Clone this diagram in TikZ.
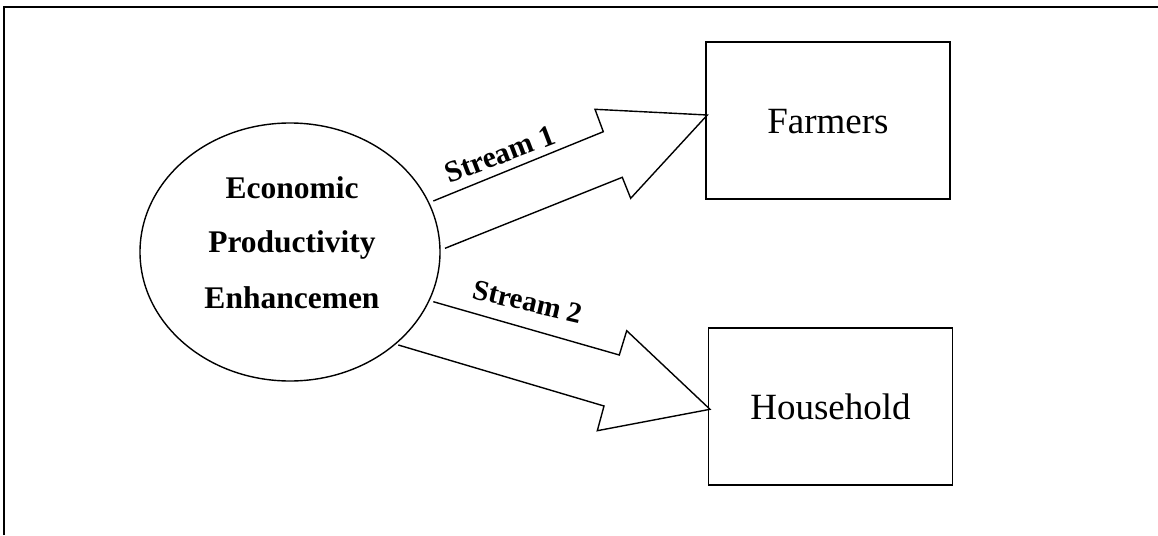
\documentclass[tikz,border=0pt]{standalone}
\usepackage{fontspec}
\setmainfont{Liberation Serif}
\usetikzlibrary{shapes.geometric}
\begin{document}
\begin{tikzpicture}[x=1pt,y=-1pt,line join=miter,
  outline/.style={draw,line width=1.4pt},
  boxnode/.style={outline,rectangle,minimum width=244pt,minimum height=157pt,inner sep=0pt,
    text height=25pt,text depth=0pt,font=\fontsize{37}{40}\selectfont},
  ovaltext/.style={anchor=base,inner sep=0pt,font=\fontsize{31.5}{34}\selectfont\bfseries},
  streamlbl/.style={anchor=base,inner sep=0pt,font=\fontsize{30}{32}\selectfont\bfseries},
  blockarrow/.style={outline}]
\useasboundingbox (0,0) rectangle (1158,535);
% frame
\draw[line width=2pt] (4,535) -- (4,7) -- (1158,7);
% nodes
\node[outline,ellipse,minimum width=300pt,minimum height=258pt,inner sep=0pt] (epe) at (290,252) {};
\node[boxnode] (farm) at (828,120.5) {Farmers};
\node[boxnode] (house) at (830.5,406.5) {Household};
\node[ovaltext] (t1) at (292,198.3) {Economic};
\node[ovaltext] (t2) at (292,252.7) {Productivity};
\node[ovaltext] (t3) at (292,308.3) {Enhancemen};
% block arrows
\draw[blockarrow] (445,248.3) -- (622.3,177.3) -- (630.7,198.3) -- (707.3,115)
  -- (595,109.3) -- (603.3,131.7) -- (433.3,201);
\draw[blockarrow] (398.3,345) -- (604,406) -- (597.3,430.7) -- (710,409.3)
  -- (626.7,330.7) -- (619.3,355) -- (433.3,301.7);
% labels
\node[streamlbl,rotate=21] (s1) at (503.3,163.3) {Stream 1};
\node[streamlbl,rotate=-13,font=\fontsize{29}{31}\selectfont\bfseries] (s2) at (525.8,310.8) {Stream 2};
\end{tikzpicture}
\end{document}
